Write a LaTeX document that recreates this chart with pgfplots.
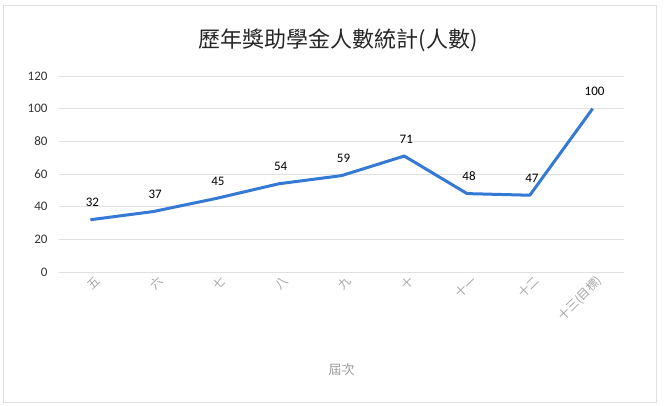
\documentclass[border=0pt]{standalone}
\usepackage{fontspec}
\setmainfont{Carlito}
\newfontfamily\cjk{Noto Sans CJK TC}
\usepackage{pgfplots}
\pgfplotsset{compat=1.18}
\definecolor{lineblue}{RGB}{52,122,212}
\begin{document}
\begin{tikzpicture}[x=1pt,y=1pt]
\path[use as bounding box] (0,0) rectangle (666,406);
\draw[gray!25] (3,4) rectangle (656,401);
\node[font=\cjk\fontsize{22}{24}\selectfont, text=black!85] at (338,366) {歷年獎助學金人數統計(人數)};
\begin{axis}[at={(59pt,134pt)}, anchor=south west, scale only axis,
  width=565pt, height=196pt,
  xmin=-0.5, xmax=8.5, ymin=0, ymax=120,
  ytick={0,20,...,120}, xtick={0,...,8},
  xticklabels={五,六,七,八,九,十,十一,十二,十三(目標)},
  xticklabel style={font=\cjk\fontsize{12}{13}\selectfont, text=black!35, rotate=45, anchor=east, xshift=4pt, yshift=-10pt},
  yticklabel style={font=\fontsize{13}{14}\selectfont, text=black!80, xshift=-8pt},
  /pgf/number format/assume math mode=true,
  axis line style={draw=none}, tick style={draw=none},
  ymajorgrids, grid style={black!12},
  xlabel={屆次}, xlabel style={font=\cjk\fontsize{13}{14}\selectfont, text=black!40, at={(axis description cs:0.5,-0.5)}, anchor=center},
  clip=false,
  nodes near coords,
  every node near coord/.append style={font=\fontsize{13}{14}\selectfont, text=black, anchor=south, yshift=8pt, xshift=2pt},
]
\addplot[lineblue, line width=3pt, line join=round] coordinates {
(0,32) (1,37) (2,45) (3,54) (4,59) (5,71) (6,48) (7,47) (8,100)};
\end{axis}
\end{tikzpicture}
\end{document}
